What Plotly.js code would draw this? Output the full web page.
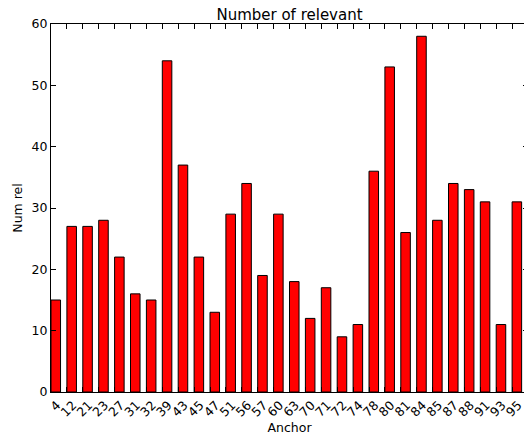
<!DOCTYPE html>
<html>
<head>
<meta charset="utf-8">
<script src="https://cdn.plot.ly/plotly-3.0.1.min.js"></script>
<style>
html,body{margin:0;padding:0;overflow:hidden;background:#fff;}
#chart{width:528px;height:435px;}
</style>
</head>
<body>
<div id="chart"></div>
<script>
const anchors = ["4","12","21","23","27","31","32","39","43","45","47","51","56","57","60","63","70","71","72","74","78","80","81","84","85","87","88","91","93","95"];
const numRel = [15,27,27,28,22,16,15,54,37,22,13,29,34,19,29,18,12,17,9,11,36,53,26,58,28,34,33,31,11,31];
const yTicks = [0,10,20,30,40,50,60];

const positions = anchors.map((_, i) => i);

const trace = {
  type: 'bar',
  x: positions,
  y: numRel,
  width: 0.6,
  offset: 0,
  marker: {color: '#ff0000', line: {color: '#000000', width: 1}},
  hoverinfo: 'skip'
};

const font = {family: 'DejaVu Sans, sans-serif', size: 12.5, color: '#000'};

const layout = {
  width: 528,
  height: 435,
  margin: {l: 51, r: 0, t: 24, b: 43, pad: 0},
  paper_bgcolor: '#fff',
  plot_bgcolor: '#fff',
  font: font,
  showlegend: false,
  bargap: 0,
  title: {text: 'Number of relevant', font: {family: 'DejaVu Sans, sans-serif', size: 15, color: '#000'}, x: 0.5, xanchor: 'center', xref: 'paper', y: 1, yref: 'paper', yanchor: 'bottom', pad: {b: 4}},
  xaxis: {
    range: [0, 30],
    tickmode: 'array',
    tickvals: positions,
    ticktext: anchors,
    tickangle: -45,
    ticklabelshift: 6,
    ticks: 'inside',
    ticklen: 5,
    tickwidth: 1,
    tickcolor: '#000',
    showline: true,
    linecolor: '#000',
    linewidth: 1,
    mirror: 'ticks',
    showgrid: false,
    zeroline: false,
    tickfont: font,
    title: {text: 'Anchor', font: font, standoff: 4}
  },
  yaxis: {
    range: [0, 60],
    tickmode: 'array',
    tickvals: yTicks,
    ticktext: yTicks.map(String),
    ticks: 'inside',
    ticklen: 5,
    tickwidth: 1,
    tickcolor: '#000',
    showline: true,
    linecolor: '#000',
    linewidth: 1,
    mirror: 'ticks',
    showgrid: false,
    zeroline: false,
    tickfont: font,
    ticklabelstandoff: 0,
    title: {text: 'Num rel', font: font, standoff: 6}
  }
};

Plotly.newPlot('chart', [trace], layout, {displayModeBar: false, staticPlot: true});
</script>
</body>
</html>
